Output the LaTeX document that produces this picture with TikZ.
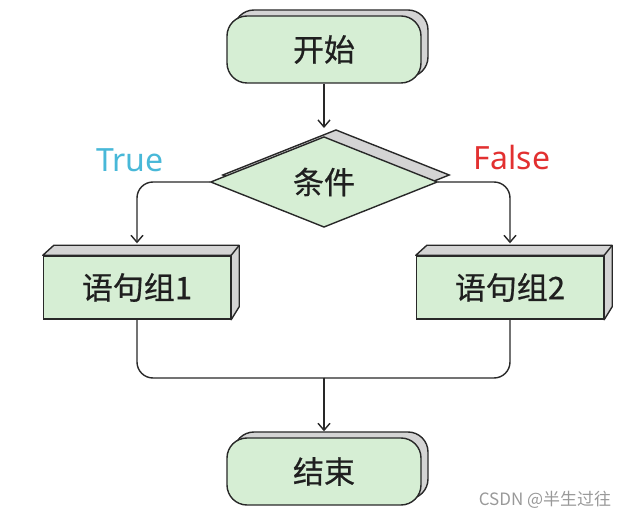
\documentclass[tikz,border=0pt]{standalone}
\usepackage{fontspec}
\setmainfont{Noto Sans CJK SC}[FakeBold=0.6]
\newfontfamily\latinfont{Noto Sans}
\newfontfamily\markfont{Noto Sans CJK SC}
\usetikzlibrary{shapes.geometric,shadows,arrows.meta,backgrounds}

\definecolor{boxgreen}{RGB}{214,238,212}
\definecolor{boxgray}{RGB}{212,212,212}
\definecolor{linegray}{RGB}{40,40,40}
\definecolor{truecol}{RGB}{72,184,216}
\definecolor{falsecol}{RGB}{226,48,48}

\tikzset{% flow chart
  terminal/.style={rectangle, rounded corners=20pt, draw=linegray, line width=1.4pt,
    fill=boxgreen, minimum width=194pt, minimum height=67pt, text=black!88,
    font=\fontsize{31}{34}\selectfont,
    copy shadow={shadow xshift=7pt, shadow yshift=6pt, fill=boxgray, draw=linegray, line width=1.4pt}},
  decision/.style={diamond, draw=linegray, line width=1.4pt, fill=boxgreen, inner sep=0pt,
    minimum width=227pt, minimum height=76pt, text=black!88,
    font=\fontsize{31}{34}\selectfont,
    copy shadow={shadow xshift=12pt, shadow yshift=7pt, fill=boxgray, draw=linegray, line width=1.4pt}},
  block/.style={rectangle, draw=linegray, line width=1.4pt, fill=boxgreen,
    minimum width=187pt, minimum height=63pt, text=black!88,
    font=\fontsize{31}{34}\selectfont},
  face/.style={draw=linegray, line width=1.4pt, fill=boxgray, line join=round},
  flow/.style={draw=linegray, line width=1.4pt, rounded corners=16pt,
    -{Straight Barb[length=7pt,width=12pt]}},
  flowline/.style={draw=linegray, line width=1.4pt, rounded corners=16pt},
  lbl/.style={font=\latinfont\fontsize{32}{35}\selectfont},
  csdn/.style={text=black!40, font=\markfont\fontsize{17}{19}\selectfont},
}

\begin{document}
\begin{tikzpicture}[x=1pt, y=1pt]
  \useasboundingbox (0,0) rectangle (630,520);

  \node[terminal] (st) at (324,470.5) {开始};
  \node[decision] (dec) at (324,338) {条件};
  \node[block] (s1) at (137,232.5) {语句组1};
  \node[block] (s2) at (510,232.5) {语句组2};
  \node[terminal] (en) at (324,48.5) {结束};
  \coordinate (m) at (324,142);

  % 3d faces of the two blocks
  \foreach \b in {s1,s2} {
    \draw[face] (\b.north west) -- ++(11,10) -- ([shift={(8,10)}]\b.north east)
      -- ([shift={(8,13)}]\b.south east) -- (\b.south east) -- (\b.north east) -- cycle;
    \draw[face] (\b.north east) -- ++(8,10);
  }

  \node[lbl, text=truecol] (t) at (130,360) {True};
  \node[lbl, text=falsecol] (f) at (512,362) {False};
  \node[csdn] (w) at (545,20) {CSDN @半生过往};

  \begin{scope}[on background layer]
    \draw[flow, shorten >=8pt] (st) -- (dec);
    \draw[flow, shorten >=12pt] (dec.west) -| (s1);
    \draw[flow, shorten >=12pt] (dec.east) -| (s2);
    \draw[flowline] (s1) |- (m);
    \draw[flowline] (s2) |- (m);
    \draw[flow, shorten >=6pt] (m) -- (en);
  \end{scope}
\end{tikzpicture}
\end{document}
